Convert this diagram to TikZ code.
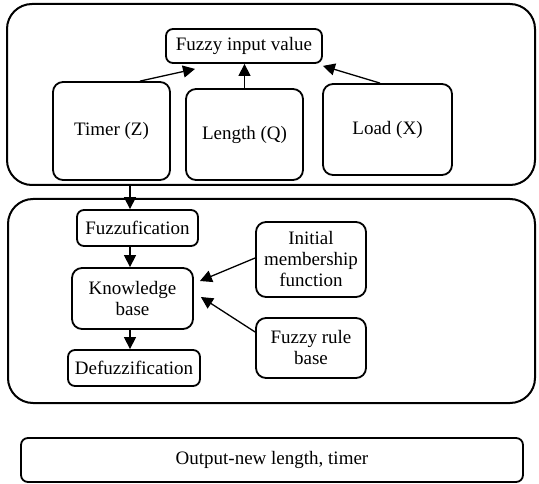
\documentclass[tikz,border=0pt]{standalone}
\usepackage{fontspec}
\setmainfont{Liberation Serif}
\usetikzlibrary{arrows.meta,calc}
\begin{document}
\begin{tikzpicture}[x=1pt,y=-1pt,
  box/.style={draw,line width=1.8pt,rounded corners=#1,inner sep=0pt,align=center,
    font=\fontsize{19}{21}\selectfont},
  box/.default=7pt,
  outer/.style={draw,line width=2pt,rounded corners=25pt,inner sep=0pt},
  arr/.style={line width=1.3pt,-{Triangle[length=12pt,width=12pt]}}]
\useasboundingbox (0,0) rectangle (539,484);
% outer containers
\node[outer,minimum width=528pt,minimum height=181pt] (top) at (271,94.5) {};
\node[outer,minimum width=527pt,minimum height=204pt] (bot) at (271.5,301) {};
% top group
\node[box,minimum width=156pt,minimum height=34pt] (fin) at (244,46) {Fuzzy input value};
\node[box=10pt,minimum width=117pt,minimum height=98pt] (timer) at (111.5,131) {Timer (Z)};
\node[box=10pt,minimum width=117pt,minimum height=91pt] (len) at (244.5,134.5) {Length (Q)};
\node[box=10pt,minimum width=129pt,minimum height=91pt] (load) at (387.5,129.5) {Load (X)};
% bottom group
\node[box,minimum width=121pt,minimum height=36pt] (fuzz) at (137.5,228) {Fuzzufication};
\node[box=10pt,minimum width=121pt,minimum height=61pt] (know) at (132.5,298.5) {Knowledge\\base};
\node[box,minimum width=132pt,minimum height=36pt] (defuzz) at (134,368) {Defuzzification};
\node[box=10pt,minimum width=110pt,minimum height=75pt] (init) at (311,259.5) {Initial\\membership\\function};
\node[box=10pt,minimum width=110pt,minimum height=60pt] (rule) at (311,348) {Fuzzy rule\\base};
% output
\node[box,minimum width=502pt,minimum height=44pt] (out) at (272,460) {Output-new length, timer};
% connectors
\coordinate (col) at (130,0);
\draw[arr] ([xshift=28.5pt]timer.north) -- ([xshift=-49pt,yshift=-5pt]fin.south);
\draw[arr] (len.north) -- (len.north |- fin.south);
\draw[arr] ([xshift=-7.5pt]load.north) -- ([yshift=-2pt]fin.south east);
\draw[arr] (col |- top.south) -- (col |- fuzz.north);
\draw[arr] (col |- fuzz.south) -- (col |- know.north);
\draw[arr] (col |- know.south) -- (col |- defuzz.north);
\draw[arr] ([yshift=1.5pt]init.west) -- ([xshift=6pt,yshift=17.5pt]know.east);
\draw[arr] ([yshift=16pt]rule.west) -- ([xshift=7pt,yshift=1.5pt]know.east);
\end{tikzpicture}
\end{document}
